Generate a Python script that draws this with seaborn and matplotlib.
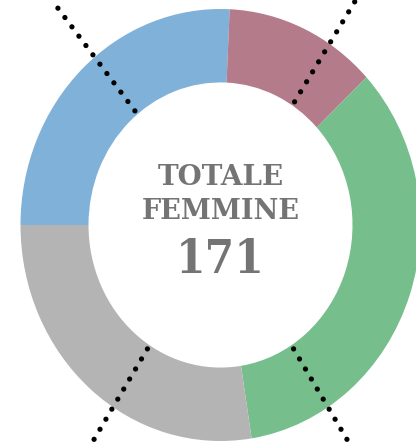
import numpy as np
import matplotlib
matplotlib.use("Agg")
import matplotlib.pyplot as plt
import seaborn as sns

# data (total 171)
categories = ["blu", "rosso", "verde", "grigio"]
values = [44, 21, 59, 47]
colors = ["#80b1d9", "#b47b8b", "#77be8d", "#b4b4b4"]
title_lines = ["TOTALE", "FEMMINE"]
total_label = str(sum(values))

# decorative dotted guides (angles in degrees)
guide_angles = [57, 129, 237.5, -57.5]

sns.set_theme(style="white")

fig = plt.figure(figsize=(4.16, 4.43), dpi=100)
ax = fig.add_axes([0, 0, 1, 1])

ax.pie(
    values,
    colors=colors,
    startangle=180,
    counterclock=False,
    radius=1,
    wedgeprops=dict(width=0.34, linewidth=0),
)

for a in guide_angles:
    t = np.deg2rad(a)
    r = np.array([0.68, 1.6])
    ax.plot(
        r * np.cos(t), r * np.sin(t),
        color="black",
        linewidth=3.8,
        linestyle=(0, (0.01, 2.2)),
        dash_capstyle="round",
        zorder=5,
    )

ax.set_aspect("auto")
ax.set_xlim(-220.5 / 200, (416 - 220.5) / 200)
ax.set_ylim(-218 / 216, 225 / 216)
ax.axis("off")

txt = dict(ha="center", va="baseline", color="#747474",
           family="DejaVu Serif", weight="bold")
ax.text(0, 0.183, title_lines[0], fontsize=20, **txt)
ax.text(0, 0.030, title_lines[1], fontsize=19.5, **txt)
ax.text(0, -0.222, total_label, fontsize=34, stretch="condensed", **txt)

fig.savefig("out.png", dpi=100)
